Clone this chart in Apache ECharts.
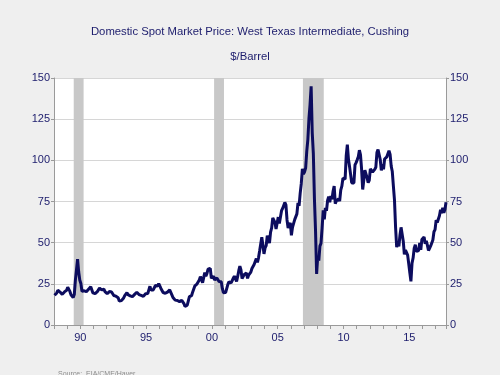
<!DOCTYPE html>
<html><head><meta charset="utf-8">
<script src="https://cdn.jsdelivr.net/npm/echarts@6/dist/echarts.min.js"></script>
<style>html,body{margin:0;padding:0;background:#efefef}#c{width:500px;height:375px}</style>
</head><body><div id="c"></div><script>
const titleText = 'Domestic Spot Market Price: West Texas Intermediate, Cushing';
const subtitleText = '$/Barrel';
const sourceText = 'Source:  EIA/CME/Haver';
const startYear = 1989;
// monthly WTI $/barrel, Jan 1989 .. Oct 2018 (extremes of daily spikes kept)
const wti = [
 18.0,17.9,19.5,21.1,20.1,20.0,19.8,18.6,19.6,20.1,19.9,21.1,
 22.9,22.1,20.4,18.4,18.2,16.7,18.5,27.3,33.5,40.0,32.3,27.3,
 25.2,20.5,19.9,20.8,21.2,20.2,21.4,21.7,21.9,23.2,22.5,19.5,
 18.8,19.0,18.9,20.2,21.0,22.4,21.8,21.3,21.9,21.7,20.3,19.4,
 19.0,20.1,20.3,20.3,20.0,19.1,17.9,18.0,17.5,18.2,16.6,14.5,
 15.0,14.8,14.7,16.4,17.9,19.1,19.7,18.4,17.5,17.7,18.1,17.2,
 18.0,18.6,18.5,19.9,19.7,18.5,17.3,18.0,18.2,17.4,18.0,19.0,
 18.9,19.1,21.3,23.5,21.2,20.4,21.3,21.9,24.0,24.9,23.7,25.2,
 25.1,22.2,21.0,19.7,20.8,19.3,19.7,20.0,19.8,21.3,20.2,18.3,
 16.7,16.1,15.1,15.4,14.9,13.7,14.2,13.5,15.0,14.5,13.0,11.3,
 12.5,12.0,14.7,17.3,17.7,17.9,20.1,21.3,23.8,22.7,25.0,26.1,
 27.3,29.4,29.8,25.7,28.8,31.8,29.7,31.3,33.9,33.1,34.4,28.4,
 29.6,29.6,27.3,27.5,28.6,27.6,26.4,27.4,26.2,22.2,19.6,19.4,
 19.7,20.7,24.5,26.2,27.0,25.5,27.0,28.4,29.7,28.8,26.4,29.5,
 33.0,35.8,33.5,28.2,28.1,30.7,30.8,31.6,28.3,30.3,31.1,32.1,
 34.3,34.7,36.7,36.8,40.3,38.0,40.8,44.9,45.9,53.3,48.5,43.2,
 46.8,48.2,54.2,53.0,49.8,56.4,59.0,65.0,65.6,62.3,58.3,59.4,
 65.5,61.6,62.7,69.4,70.8,71.0,74.4,73.0,63.8,58.9,59.1,62.0,
 54.5,59.3,60.4,64.0,63.5,67.5,74.1,72.4,79.9,85.8,94.8,91.7,
 93.0,95.4,105.5,112.6,125.4,133.9,145.0,116.7,104.1,76.6,57.3,31.0,
 41.7,39.1,47.9,49.7,59.0,69.6,64.2,71.1,69.4,75.7,78.0,74.5,
 78.3,76.4,81.2,84.3,73.7,75.3,76.3,76.6,75.2,81.9,84.3,89.2,
 89.2,88.6,102.9,109.5,100.9,96.3,97.3,86.3,85.5,86.3,97.2,98.6,
 100.3,102.2,106.2,103.3,94.7,82.3,87.9,94.1,94.5,89.5,86.5,87.9,
 94.8,95.3,92.9,92.0,94.5,95.8,104.7,106.6,106.3,100.5,93.9,97.6,
 94.6,100.8,100.8,102.1,102.2,105.8,103.6,96.5,93.2,84.4,75.8,59.3,
 47.2,50.6,47.8,54.5,59.3,59.8,50.9,42.9,45.5,46.2,42.4,37.2,
 31.7,26.5,37.6,40.8,46.7,48.8,44.7,44.7,45.2,49.8,45.7,52.0,
 52.5,53.5,49.3,51.1,48.5,45.2,46.6,48.0,49.8,51.6,56.6,57.9,
 63.7,62.2,62.7,66.3,70.0,67.9,71.1,68.1,70.2,74.5
];
// NBER recessions (start, end) as year-month
const recessions = [['1990-07','1991-03'],['2001-03','2001-11'],['2007-12','2009-06']];
const yTicks = [0,25,50,75,100,125,150];
const xLabelYears = [1990,1995,2000,2005,2010,2015];

function ym(s){const p=s.split('-');return +p[0]+(+p[1]-1)/12;}
const lineData = wti.map((v,i)=>[startYear+i/12+1/24, v]);
const areas = recessions.map(r=>[{xAxis:ym(r[0])},{xAxis:ym(r[1])+1/12}]);

const navy = '#1c1c6c';
const chart = echarts.init(document.getElementById('c'));
chart.setOption({
  backgroundColor:'#efefef',
  animation:false,
  title:[
    {text:titleText,left:'center',top:21,textStyle:{color:navy,fontSize:11.3,fontWeight:'normal',fontFamily:'Liberation Sans'}},
    {text:subtitleText,left:'center',top:46,textStyle:{color:navy,fontSize:11.3,fontWeight:'normal',fontFamily:'Liberation Sans'}},
    {text:sourceText,left:53,top:366,textStyle:{color:'#8a8a8a',fontSize:7,fontWeight:'normal',fontFamily:'Liberation Sans'}}
  ],
  grid:{left:54,right:54,top:78,bottom:50,show:true,backgroundColor:'#ffffff',borderWidth:0},
  xAxis:[
    {type:'value',min:1989,max:2018.79,interval:1,position:'bottom',
     axisLine:{show:true,lineStyle:{color:'#9a9a9a',width:1}},
     axisTick:{show:true,length:4,lineStyle:{color:'#9a9a9a'}},
     axisLabel:{show:false},splitLine:{show:false}},
    {type:'value',min:1988.5,max:2018.29,interval:1,position:'bottom',
     axisLine:{show:false},axisTick:{show:false},splitLine:{show:false},
     axisLabel:{show:true,margin:7,color:navy,fontSize:11,fontFamily:'Liberation Sans',
       formatter:v=>{const y=Math.round(v-0.5);return xLabelYears.indexOf(y)>=0?String(y%100).padStart(2,'0'):'';}}}
  ],
  yAxis:[
    {type:'value',min:0,max:150,interval:25,position:'left',
     axisLine:{show:true,lineStyle:{color:'#9a9a9a'}},
     axisTick:{show:true,length:3,lineStyle:{color:'#9a9a9a'}},
     axisLabel:{color:navy,fontSize:11,margin:4,fontFamily:'Liberation Sans',formatter:v=>yTicks.indexOf(v)>=0?String(v):''},
     splitLine:{show:true,lineStyle:{color:'#d6d6d6',width:1}}},
    {type:'value',min:0,max:150,interval:25,position:'right',
     axisLine:{show:true,lineStyle:{color:'#9a9a9a'}},
     axisTick:{show:true,length:3,lineStyle:{color:'#9a9a9a'}},
     axisLabel:{color:navy,fontSize:11,margin:4,fontFamily:'Liberation Sans'},
     splitLine:{show:false}}
  ],
  series:[{
    type:'line',xAxisIndex:0,yAxisIndex:0,data:lineData,showSymbol:false,
    lineStyle:{color:'#0c0c5e',width:3},
    markArea:{silent:true,itemStyle:{color:'#c8c8c8'},data:areas}
  }]
});
</script></body></html>
